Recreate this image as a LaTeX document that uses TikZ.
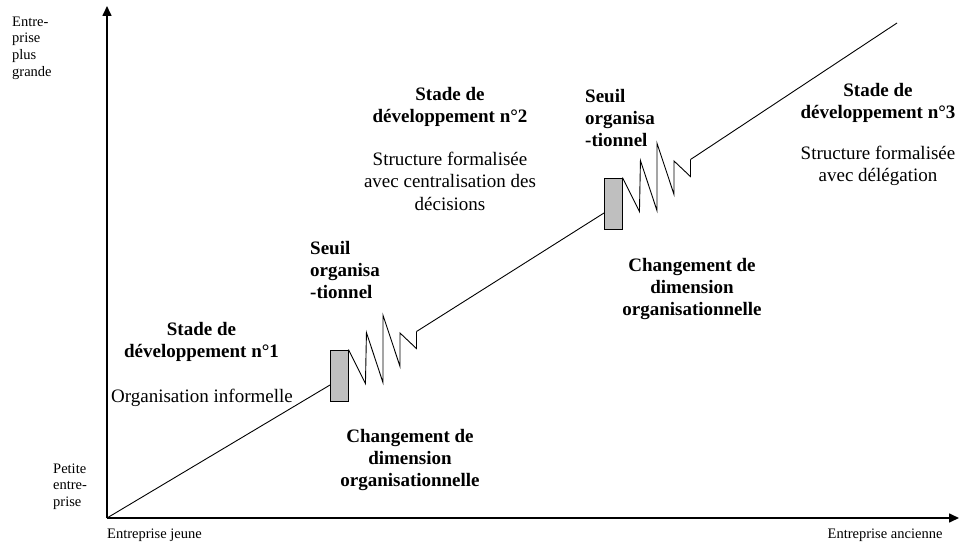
\documentclass[tikz,border=0pt]{standalone}
\usepackage{fontspec}
\setmainfont{Liberation Serif}
\usetikzlibrary{arrows.meta,calc}
\tikzset{
  axisline/.style={line width=1.6pt,-{Triangle[length=10pt,width=9pt]}},
  curve/.style={line width=0.9pt},
  gbox/.style={draw,line width=0.9pt,fill=black!25,minimum width=18pt,minimum height=51pt,inner sep=0pt},
  boldtxt/.style={font=\fontsize{19}{22}\selectfont\bfseries,align=center,inner sep=0pt},
  regtxt/.style={font=\fontsize{19}{22.5}\selectfont,align=center,inner sep=0pt},
  smalltxt/.style={font=\fontsize{14.5}{16.7}\selectfont,align=left,inner sep=0pt,anchor=west},
}
\begin{document}
\begin{tikzpicture}[x=1pt,y=-1pt]
\useasboundingbox (0,0) rectangle (959,543);
% axes
\coordinate (O) at (107,518);
\coordinate (ytip) at (107,6);
\coordinate (xtip) at (959,518);
\draw[axisline] (O) -- (ytip);
\draw[axisline] (O) -- (xtip);
% boxes
\node[gbox] (b1) at (339,375.5) {};
\node[gbox] (b2) at (613,203.5) {};
% line segments
\coordinate (b1in) at (330,385);
\coordinate (b2in) at (604,213);
\coordinate (z1end) at ($(b1.north east)+(68,-18)$);
\coordinate (z2end) at ($(b2.north east)+(68,-18)$);
\coordinate (lend) at (897,23);
\draw[curve] (O) -- (b1in);
\draw[curve] (z1end) -- (b2in);
\draw[curve] (z2end) -- (lend);
% zigzags
\foreach \b in {b1,b2}{
  \draw[curve,line join=miter] (\b.north east) -- ++(17,34) -- ++(1,-51) -- ++(16.5,50) -- ++(0,-67.5)
     -- ++(17,51.2) -- ++(0,-33.3) -- ++(16.5,15.6) -- ++(0,-17);
}
\node[gbox] at (339,375.5) {};
\node[gbox] at (613,203.5) {};
% texts
\node[boldtxt] (s1) at (201.5,341.5) {Stade de\\développement n°1};
\node[regtxt] (s1t) at (202,398) {Organisation informelle};
\node[boldtxt] (s2) at (450,106.5) {Stade de\\développement n°2};
\node[regtxt] (s2t) at (450,181) {Structure formalisée\\avec centralisation des\\décisions};
\node[boldtxt] (s3) at (878,102.5) {Stade de\\développement n°3};
\node[regtxt] (s3t) at (878,166) {Structure formalisée\\avec délégation};
\node[boldtxt,anchor=west,align=left] (t1) at (310,270) {Seuil\\organisa\\-tionnel};
\node[boldtxt,anchor=west,align=left] (t2) at (585,118) {Seuil\\organisa\\-tionnel};
\node[boldtxt] (c1) at (410,460) {Changement de\\dimension\\organisationnelle};
\node[boldtxt] (c2) at (692,289) {Changement de\\dimension\\organisationnelle};
\node[smalltxt] (yt) at (12,48) {Entre-\\prise\\plus\\grande};
\node[smalltxt] (yb) at (53,486.5) {Petite\\entre-\\prise};
\node[smalltxt] (xl) at (107,535) {Entreprise jeune};
\node[smalltxt] (xr) at (827.5,535) {Entreprise ancienne};
\end{tikzpicture}
\end{document}
